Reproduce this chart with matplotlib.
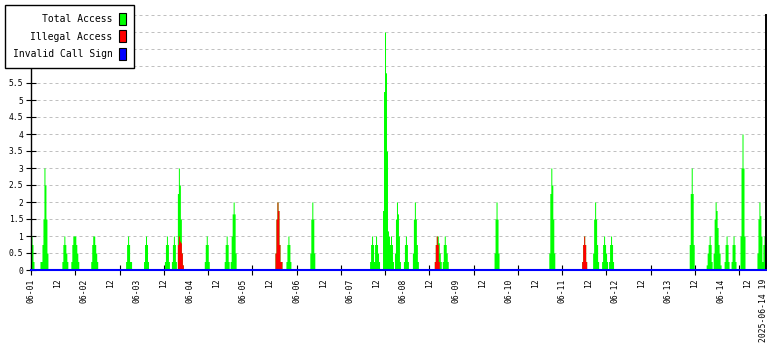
import matplotlib
matplotlib.use("Agg")
import matplotlib.pyplot as plt
import matplotlib.dates as mdates
from matplotlib.patches import Patch
from matplotlib.ticker import FixedLocator, FixedFormatter, MultipleLocator, FuncFormatter
from datetime import datetime, timedelta
import numpy as np

YEAR = 2025
START = "06-01 00:00"
END = "06-14 19:55"
STEP_MIN = 27

# (burst start, values per step)
TOTAL_BURSTS = [
    ("06-01 00:00", [1, 0.75, 0.25]),
    ("06-01 04:04", [0.25, 0.25, 0.75, 1.5, 3, 2.5, 1.5, 0.5]),
    ("06-01 14:01", [0.25, 0.75, 1, 0.75, 0.5, 0.25]),
    ("06-01 18:05", [0.25, 0.75, 1, 1, 1, 0.75, 0.5, 0.25]),
    ("06-02 03:07", [0.25, 0.75, 1, 1, 0.75, 0.5, 0.25]),
    ("06-02 18:56", [0.25, 0.75, 1, 0.75, 0.25, 0.25]),
    ("06-03 03:04", [0.25, 0.75, 1, 0.75, 0.25]),
    ("06-03 12:06", [0.25, 0.75, 1, 0.75, 0.25]),
    ("06-03 15:16", [0.25, 0.75, 1, 0.75, 0.25]),
    ("06-03 17:58", [2.25, 3, 2.5, 1.5, 0.5, 0.15]),
    ("06-04 06:10", [0.25, 0.75, 1, 0.75, 0.25]),
    ("06-04 15:13", [0.25, 0.75, 1, 0.75, 0.25]),
    ("06-04 17:55", [0.25, 1, 1.65, 2, 1.65, 0.5]),
    ("06-05 14:16", [0.5, 1.5, 2, 1.75, 0.75, 0.25, 0.25]),
    ("06-05 19:14", [0.25, 0.75, 1, 0.75, 0.25]),
    ("06-06 06:04", [0.5, 1.5, 2, 1.5, 0.5]),
    ("06-07 09:11", [0.25, 0.75, 1, 0.75, 0.25, 0.75, 1, 0.75, 0.5, 0.25]),
    ("06-07 15:04", [1.75, 5.25, 7, 5.8, 3.5, 1.15, 1, 0.75, 1, 0.75, 0.25]),
    ("06-07 20:02", [0.5, 1.5, 2, 1.65, 1, 0.25]),
    ("06-08 00:06", [0.25, 0.75, 1, 0.75, 0.25]),
    ("06-08 04:10", [0.5, 1.5, 2, 1.5, 0.75, 0.25]),
    ("06-08 14:06", [0.25, 0.75, 1, 1, 0.8, 0.5, 0.25]),
    ("06-08 17:43", [0.25, 0.75, 1, 0.75, 0.5, 0.25]),
    ("06-09 17:13", [0.5, 1.5, 2, 1.5, 0.5]),
    ("06-10 18:04", [0.5, 2.25, 3, 2.5, 1.5, 0.5]),
    ("06-11 08:59", [0.25, 0.75, 1, 0.75, 0.25]),
    ("06-11 13:57", [0.5, 1.5, 2, 1.5, 0.75, 0.25]),
    ("06-11 18:01", [0.25, 0.75, 1, 0.75, 0.5, 0.25]),
    ("06-11 21:11", [0.25, 0.75, 1, 0.75, 0.25]),
    ("06-13 09:20", [0.75, 2.25, 3, 2.25, 0.75]),
    ("06-13 17:01", [0.15, 0.5, 0.75, 1, 0.75, 0.25]),
    ("06-13 20:11", [0.5, 1.5, 2, 1.75, 1.25, 0.75, 0.5, 0.15]),
    ("06-14 01:09", [0.25, 0.75, 1, 0.75, 0.25]),
    ("06-14 04:19", [0.25, 0.75, 1, 0.75, 0.25]),
    ("06-14 08:23", [1, 3, 4, 3, 1]),
    ("06-14 16:03", [0.5, 1.5, 2, 1.6, 1, 0.25, 0.75, 1, 1]),
]

ILLEGAL_BURSTS = [
    ("06-03 17:58", [0.75, 1, 0.85, 0.8, 0.5, 0.15]),
    ("06-05 14:16", [0.5, 1.5, 2, 1.75, 0.75, 0.25, 0.25]),
    ("06-08 14:06", [0.25, 0.75, 1, 0.75, 0.25]),
    ("06-11 08:59", [0.25, 0.75, 1, 0.75, 0.25]),
]

INVALID_BURSTS = []

SERIES_NAMES = ["Total Access", "Illegal Access", "Invalid Call Sign"]
SERIES_COLORS = ["#00ff00", "#ff0000", "#0000ff"]
Y_MAX = 7.5
Y_LABEL_MAX = 5.5  # labels above this sit under the legend
TICK_HOURS = 20
LABEL_HOURS = 12
LAST_LABEL = "06-14 19:00"


def parse(s):
    return datetime.strptime(f"{YEAR}-{s}", "%Y-%m-%d %H:%M")


t0 = parse(START)
t1 = parse(END)
step = timedelta(minutes=STEP_MIN)
n = int((t1 - t0) / step) + 1
times = [t0 + i * step for i in range(n + 1)]


def build(bursts):
    arr = np.zeros(n)
    for start, vals in bursts:
        i0 = int(round((parse(start) - t0) / step))
        for k, v in enumerate(vals):
            if i0 + k < n:
                arr[i0 + k] = max(arr[i0 + k], v)
    return np.append(arr, arr[-1])


total = build(TOTAL_BURSTS)
illegal = build(ILLEGAL_BURSTS)
invalid = build(INVALID_BURSTS)

mono = "DejaVu Sans Mono"
fig = plt.figure(figsize=(7.8, 3.5), dpi=100)
ax = fig.add_axes([31 / 780, 80 / 350, 734.5 / 780, 255 / 350])

x = mdates.date2num(times)
ax.fill_between(x, 0, total, step="post", color=SERIES_COLORS[0], linewidth=0, zorder=2)
ax.fill_between(x, 0, illegal, step="post", color=SERIES_COLORS[1], linewidth=0, zorder=2.1)
ax.plot(x, invalid, drawstyle="steps-post", color=SERIES_COLORS[2], lw=1.5, clip_on=False, zorder=3)

ax.set_xlim(x[0], mdates.date2num(t1))
ax.set_ylim(0, Y_MAX)

ax.yaxis.set_major_locator(MultipleLocator(0.5))
ax.yaxis.set_major_formatter(FuncFormatter(lambda v, p: f"{v:g}" if v <= Y_LABEL_MAX else ""))
ax.grid(axis="y", color="#c0c0c0", linestyle=(0, (3, 3)), lw=0.72, zorder=1)
ax.set_axisbelow(True)

# marks every 20 h, labels every 12 h
tick_pos = []
t = t0
while t <= t1:
    tick_pos.append(mdates.date2num(t))
    t += timedelta(hours=TICK_HOURS)
ax.xaxis.set_major_locator(FixedLocator(tick_pos))
ax.xaxis.set_major_formatter(FixedFormatter([""] * len(tick_pos)))

lab_pos, lab_txt = [], []
t = t0
last = parse(LAST_LABEL)
while t < last - timedelta(hours=3):
    lab_pos.append(mdates.date2num(t))
    lab_txt.append(t.strftime("%m-%d") if t.hour == 0 else t.strftime("%H"))
    t += timedelta(hours=LABEL_HOURS)
lab_pos.append(mdates.date2num(last))
lab_txt.append(last.strftime("%Y-%m-%d %H"))
ax.xaxis.remove_overlapping_locs = False
ax.xaxis.set_minor_locator(FixedLocator(lab_pos))
ax.xaxis.set_minor_formatter(FixedFormatter(lab_txt))

ax.tick_params(axis="x", which="major", direction="inout", length=7, width=0.8, color="black")
ax.tick_params(axis="x", which="minor", length=0, pad=6, labelsize=5.8, labelrotation=90)
ax.tick_params(axis="y", direction="inout", length=7, width=0.8, labelsize=5.8, pad=2)
for lbl in ax.get_xticklabels(minor=True) + ax.get_yticklabels():
    lbl.set_fontfamily(mono)

ax.spines["top"].set_visible(False)
ax.spines["bottom"].set_visible(False)
ax.spines["left"].set_linewidth(1.0)
ax.spines["right"].set_linewidth(1.4)

handles = [Patch(facecolor=c, edgecolor="black", lw=0.8) for c in SERIES_COLORS]
leg = fig.legend(
    handles, SERIES_NAMES,
    loc="upper left", bbox_to_anchor=(5 / 780, 1 - 5 / 350),
    markerfirst=False, fancybox=False, framealpha=1, edgecolor="black",
    prop={"family": mono, "size": 7},
    handlelength=0.65, handleheight=1.5, handletextpad=0.7,
    labelspacing=0.6, borderpad=0.8, borderaxespad=0,
)
leg.get_frame().set_linewidth(1.0)

fig.savefig("out.png", dpi=100)
